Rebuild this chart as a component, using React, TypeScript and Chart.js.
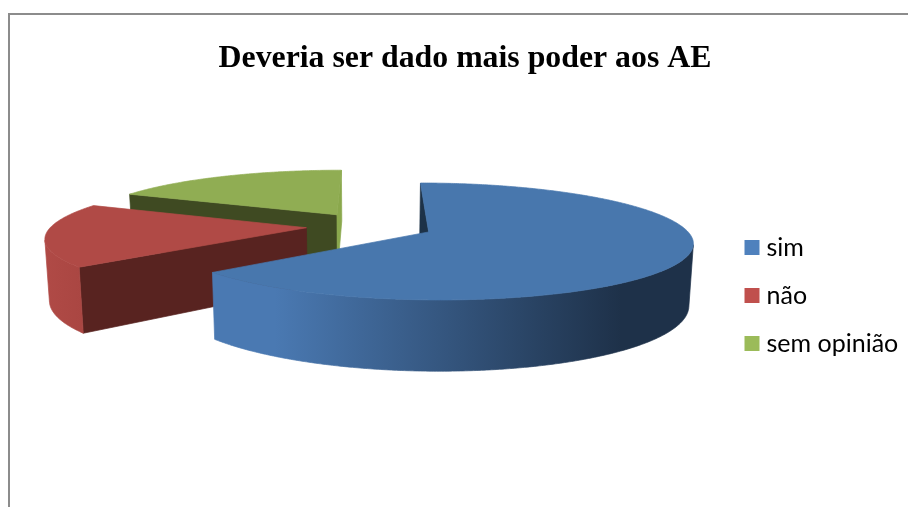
import React, { useEffect, useRef } from "react";
import { Chart, registerables } from "chart.js";

Chart.register(...registerables);

const categories = ["sim", "não", "sem opinião"];
const seriesValues = [64, 18, 18];
const chartTitle = "Deveria ser dado mais poder aos AE";
const legendColors = ["#4f81bd", "#c0504d", "#9bbb59"];
const faceColors = ["#4877ad", "#b04a46", "#90ad53"];
const startWallColors = ["#1d3248", "#582320", "#3f4a22"];
const endWallColors = ["#1d3248", "#582320", "#8aa84c"];
const rimStops: [number, string][][] = [
  [[0, "#4a79b2"], [0.13, "#4a79b2"], [0.85, "#1e3149"], [1, "#1e3149"]],
  [[0, "#b04a46"], [1, "#a84541"]],
  [[0, "#90ad53"], [1, "#8aa84c"]],
];

// projection of the exploded pie
const CX = 370;
const CY = 226;
const TILT = 55;
const PERSPECTIVE = 0.16;
const EXPLODE = 0.25;
const DEPTH = 59.5;
const FLOOR_SCALE = 0.986;
const STEP = Math.PI / 360;

type Pt = [number, number];

function project(x: number, y: number, r: number, bottom: boolean): Pt {
  const w = 1 / (1 - PERSPECTIVE * y);
  const s = bottom ? FLOOR_SCALE : 1;
  return [CX + r * x * w * s, CY + TILT * y * w * s + (bottom ? DEPTH * w : 0)];
}

function area(p: Pt[]) {
  let a = 0;
  for (let i = 0; i < p.length; i++) {
    const q = p[(i + 1) % p.length];
    a += p[i][0] * q[1] - q[0] * p[i][1];
  }
  return a / 2;
}

function fillPoly(ctx: CanvasRenderingContext2D, p: Pt[], fill: string | CanvasGradient) {
  ctx.beginPath();
  p.forEach((q, i) => (i ? ctx.lineTo(q[0], q[1]) : ctx.moveTo(q[0], q[1])));
  ctx.closePath();
  ctx.fillStyle = fill;
  ctx.strokeStyle = fill;
  ctx.lineWidth = 0.7;
  ctx.lineJoin = "round";
  ctx.fill();
  ctx.stroke();
}

const pie3d = {
  id: "pie3d",
  afterLayout(chart: any) {
    chart.legend.left = 727;
    chart.legend.top = 212;
  },
  beforeDraw(chart: any) {
    const ctx = chart.ctx as CanvasRenderingContext2D;
    ctx.save();
    ctx.strokeStyle = "#8c8c8c";
    ctx.lineWidth = 2;
    ctx.beginPath();
    ctx.moveTo(9, chart.height);
    ctx.lineTo(9, 14);
    ctx.lineTo(chart.width, 14);
    ctx.stroke();
    ctx.restore();
  },
  beforeDatasetDraw(chart: any, args: any) {
    const ctx = chart.ctx as CanvasRenderingContext2D;
    const arcs = args.meta.data as any[];
    const parts = arcs.map((arc) => {
      const mid = (arc.startAngle + arc.endAngle) / 2;
      const ox = EXPLODE * Math.cos(mid);
      const oy = EXPLODE * Math.sin(mid);
      const angles: number[] = [];
      for (let a = arc.startAngle; a < arc.endAngle; a += STEP) angles.push(a);
      angles.push(arc.endAngle);
      const rim = angles.map((a) => [ox + Math.cos(a), oy + Math.sin(a)] as Pt);
      return { ox, oy, rim, r: arc.outerRadius };
    });
    ctx.save();
    const order = arcs.map((_, i) => i).sort((a, b) => parts[a].oy - parts[b].oy);
    for (const i of order) {
      const { ox, oy, rim, r } = parts[i];
      const walls: [Pt, string][] = [
        [rim[0], startWallColors[i]],
        [rim[rim.length - 1], endWallColors[i]],
      ];
      // walls: drawn only when they face the viewer
      walls.forEach(([e, color], k) => {
        const quad: Pt[] = [
          project(ox, oy, r, false),
          project(e[0], e[1], r, false),
          project(e[0], e[1], r, true),
          project(ox, oy, r, true),
        ];
        const facing = k === 0 ? area(quad) < 0 : area(quad) > 0;
        if (facing) fillPoly(ctx, quad, color);
      });
      // outer rim: contiguous runs of viewer-facing segments
      const xs = rim.map((p) => project(p[0], p[1], r, false)[0]);
      const own = ctx.createLinearGradient(Math.min(...xs), 0, Math.max(...xs), 0);
      rimStops[i].forEach(([o, c]) => own.addColorStop(o, c));
      let run: [Pt[], Pt[]] | null = null;
      const flush = () => {
        if (run) fillPoly(ctx, [...run[0], ...run[1].reverse()], own);
        run = null;
      };
      for (let s = 0; s < rim.length - 1; s++) {
        const a0 = project(rim[s][0], rim[s][1], r, false);
        const a1 = project(rim[s + 1][0], rim[s + 1][1], r, false);
        const b1 = project(rim[s + 1][0], rim[s + 1][1], r, true);
        const b0 = project(rim[s][0], rim[s][1], r, true);
        if (area([a0, a1, b1, b0]) < 0) {
          if (!run) run = [[a0], [b0]];
          run[0].push(a1);
          run[1].push(b1);
        } else flush();
      }
      flush();
    }
    for (const i of order) {
      const { ox, oy, rim, r } = parts[i];
      const poly = [project(ox, oy, r, false), ...rim.map((p) => project(p[0], p[1], r, false))];
      fillPoly(ctx, poly, faceColors[i]);
    }
    ctx.restore();
    return false;
  },
};

export default function App() {
  const ref = useRef<HTMLCanvasElement>(null);
  useEffect(() => {
    const chart = new Chart(ref.current!, {
      type: "pie",
      data: {
        labels: categories,
        datasets: [{ data: seriesValues, backgroundColor: legendColors, borderWidth: 0 }],
      },
      plugins: [pie3d],
      options: {
        responsive: false,
        animation: false,
        radius: 255,
        layout: { padding: { left: 22 } },
        plugins: {
          tooltip: { enabled: false },
          title: {
            display: true,
            text: chartTitle,
            color: "#000000",
            font: { family: "'Liberation Serif'", size: 31.8, weight: "bold" },
            padding: { top: 40, bottom: 10 },
          },
          legend: {
            position: "right",
            align: "start",
            labels: {
              boxWidth: 4,
              boxHeight: 4,
              padding: 23,
              color: "#000000",
              font: { family: "Lato", size: 25 },
              generateLabels: (c: any) =>
                Chart.overrides.pie.plugins.legend.labels.generateLabels(c).map((l: any) => ({
                  ...l,
                  strokeStyle: l.fillStyle,
                  lineWidth: 11,
                })),
            },
          },
        },
      },
    } as any);
    return () => chart.destroy();
  }, []);
  return (
    <div style={{ position: "absolute", left: 0, top: 0, width: 908, height: 507 }}>
      <canvas ref={ref} width={908} height={507} style={{ display: "block" }} />
    </div>
  );
}
